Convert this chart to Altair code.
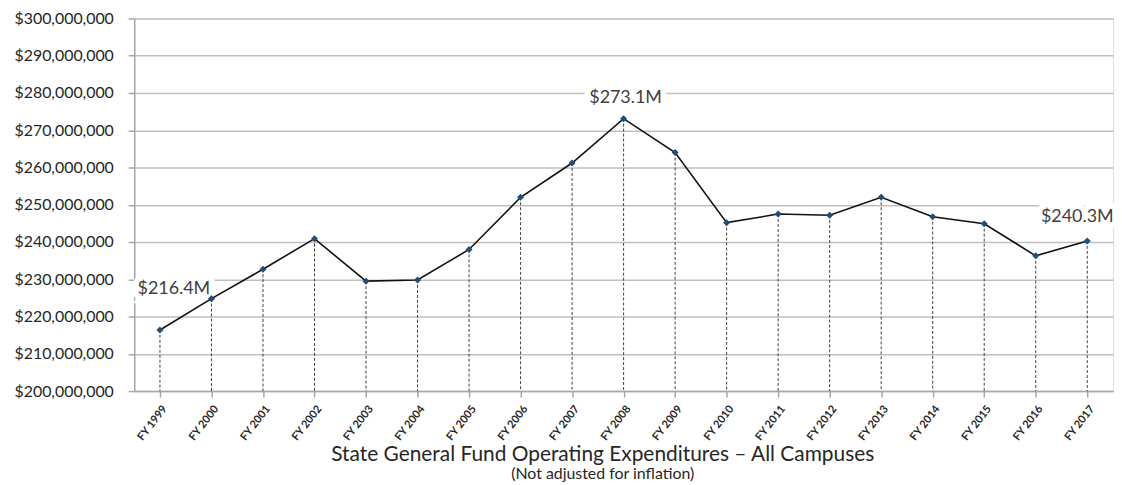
import altair as alt
import pandas as pd

years = ["FY 1999", "FY 2000", "FY 2001", "FY 2002", "FY 2003", "FY 2004", "FY 2005",
         "FY 2006", "FY 2007", "FY 2008", "FY 2009", "FY 2010", "FY 2011", "FY 2012",
         "FY 2013", "FY 2014", "FY 2015", "FY 2016", "FY 2017"]
values_m = [216.4, 224.8, 232.7, 240.9, 229.5, 229.8, 238.0, 252.0, 261.2, 273.1,
            264.0, 245.2, 247.5, 247.2, 252.0, 246.8, 244.9, 236.3, 240.3]
label_years = ["FY 1999", "FY 2008", "FY 2017"]
label_texts = ["$216.4M", "$273.1M", "$240.3M"]

df = pd.DataFrame({"year": years, "value": [v * 1e6 for v in values_m]})
lab = pd.DataFrame({"year": label_years, "text": label_texts,
                    "value": [values_m[years.index(y)] * 1e6 for y in label_years]})

FONT = "Lato"
x = alt.X("year:N", sort=years, title=None,
          scale=alt.Scale(type="point", padding=0.5),
          axis=alt.Axis(labelAngle=-52, labelAlign="right", labelBaseline="top",
                        labelFontSize=11, labelFontWeight="bold", labelColor="#262626",
                        labelFont=FONT, labelPadding=6, tickSize=6, tickColor="#A6A6A6",
                        domainColor="#A6A6A6", domainWidth=1.5, tickWidth=1.5, grid=False))
y = alt.Y("value:Q", title=None,
          scale=alt.Scale(domain=[200e6, 300e6], nice=False, zero=False),
          axis=alt.Axis(values=[200e6 + i * 10e6 for i in range(11)], format="$,.0f",
                        labelFontSize=16, labelColor="#262626", labelFont=FONT,
                        labelPadding=15, tickSize=6, tickColor="#A6A6A6", tickWidth=1.5,
                        domainColor="#A6A6A6", domainWidth=1.5,
                        gridColor="#BFBFBF", gridWidth=1.5))

drops = alt.Chart(df).mark_rule(strokeDash=[3, 2], color="#404040", strokeWidth=1).encode(
    x=x, y=y, y2=alt.datum(200e6))
line = alt.Chart(df).mark_line(color="#111111", strokeWidth=1.6).encode(x=x, y=y)
pts = alt.Chart(df).mark_point(shape="diamond", filled=True, color="#1F4E79",
                               size=50, opacity=1).encode(x=x, y=y)

offsets = {"FY 1999": (14, -41), "FY 2008": (2, -21), "FY 2017": (-10, -24)}
halos, texts = [], []
for yr, (ddx, ddy) in offsets.items():
    sub = alt.Chart(lab).transform_filter(alt.datum.year == yr)
    halos.append(sub.mark_text(dx=ddx, dy=ddy, fontSize=18, font=FONT,
                               stroke="white", strokeWidth=12, color="white")
                 .encode(x=x, y=y, text="text:N"))
    texts.append(sub.mark_text(dx=ddx, dy=ddy, fontSize=18, font=FONT,
                               color="#404040")
                 .encode(x=x, y=y, text="text:N"))

chart = alt.layer(*halos, drops, line, pts, *texts).properties(
    width=985, height=375,
    padding={"left": 5, "top": 1, "right": 0, "bottom": 0},
    title=alt.TitleParams(
        text="State General Fund Operating Expenditures \u2013 All Campuses",
        subtitle="(Not adjusted for inflation)",
        orient="bottom", anchor="middle", dx=-21, offset=2,
        fontSize=21, font=FONT, fontWeight="normal", color="#262626",
        subtitleFontSize=16, subtitleFont=FONT, subtitleColor="#262626",
        subtitlePadding=1),
).configure_view(stroke=None).configure(background="white")

chart.save("out.html", embed_options={"renderer": "svg", "actions": False})
